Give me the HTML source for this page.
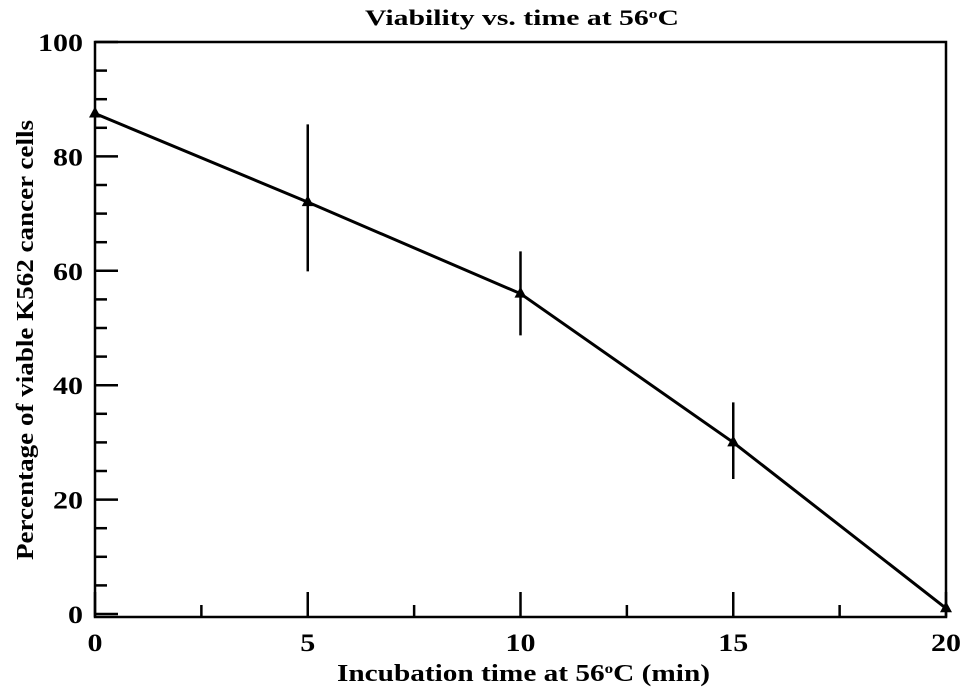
<!DOCTYPE html>
<html><head><meta charset="utf-8"><style>
html,body{margin:0;padding:0;background:#fff;}
svg{display:block;font-family:"Liberation Serif",serif;font-weight:bold;}
</style></head><body>
<svg id="chart" width="969" height="698" viewBox="0 0 969 698">
<text x="365" y="25" font-size="22" textLength="314" lengthAdjust="spacingAndGlyphs">Viability vs. time at 56<tspan font-size="13" dy="-7">o</tspan><tspan dy="7">C</tspan></text>
<text x="337" y="681" font-size="24" textLength="373" lengthAdjust="spacingAndGlyphs">Incubation time at 56<tspan font-size="14" dy="-8">o</tspan><tspan dy="8">C (min)</tspan></text>
<text transform="translate(33,560) rotate(-90)" font-size="24" textLength="440" lengthAdjust="spacingAndGlyphs">Percentage of viable K562 cancer cells</text>
<g id="axes"></g>
<g id="marks"></g>
</svg>
<script>
const times = [0, 5, 10, 15, 20];
const viability = [87.5, 72, 56, 30, 1];
const errUpper = [87.5, 85.6, 63.4, 37, 1];
const errLower = [87.5, 59.9, 48.7, 23.6, 1];
const xTicks = [0, 5, 10, 15, 20];
const yTicks = [0, 20, 40, 60, 80, 100];

const X0 = 95, X1 = 946, Y0 = 614, Y1 = 42;
const xs = v => X0 + (v - 0) / 20 * (X1 - X0);
const ys = v => Y0 - v / 100 * (Y0 - Y1);
const NS = "http://www.w3.org/2000/svg";
function mk(tag, attrs, parent) {
  const e = document.createElementNS(NS, tag);
  for (const k in attrs) e.setAttribute(k, attrs[k]);
  parent.appendChild(e);
  return e;
}
const axes = document.getElementById('axes');
const marks = document.getElementById('marks');

const frame = mk('path', {d: `M${X0},${Y1} H${X1} V${Y0+3} H${X0} Z`, fill: 'none', stroke: '#000', 'stroke-width': 2.5}, axes);



for (let v = 0; v <= 100; v += 5) {
  const major = v % 20 === 0;
  const t = mk('line', {x1: X0, x2: X0 + (major ? 23 : 12), y1: ys(v), y2: ys(v), stroke: '#000', 'stroke-width': 2.5}, axes);
  
  
}
yTicks.forEach(v => {
  const s = String(v);
  const t = mk('text', {x: X0 - 12 - s.length * 15, y: ys(v) + 9, 'font-size': 25, textLength: s.length * 15, lengthAdjust: 'spacingAndGlyphs'}, axes);
  t.textContent = s;
  
  
});
for (let v = 0; v <= 20; v += 2.5) {
  const major = v % 5 === 0;
  const t = mk('line', {x1: xs(v), x2: xs(v), y1: Y0 + 3, y2: Y0 + 3 - (major ? 25 : 12), stroke: '#000', 'stroke-width': 2.5}, axes);
  
  
}
xTicks.forEach(v => {
  const s = String(v);
  const t = mk('text', {x: xs(v) - s.length * 7.5, y: Y0 + 37, 'font-size': 25, textLength: s.length * 15, lengthAdjust: 'spacingAndGlyphs'}, axes);
  t.textContent = s;
  
  
});

times.forEach((t, i) => {
  if (errUpper[i] !== errLower[i]) {
    const e = mk('line', {x1: xs(t), x2: xs(t), y1: ys(errUpper[i]), y2: ys(errLower[i]), stroke: '#000', 'stroke-width': 2.5}, marks);
    
    
  }
});
const line = mk('polyline', {points: times.map((t, i) => xs(t) + ',' + ys(viability[i])).join(' '), fill: 'none', stroke: '#000', 'stroke-width': 3}, marks);


times.forEach((t, i) => {
  const x = xs(t), y = ys(viability[i]);
  const m = mk('polygon', {points: `${x},${y-7} ${x-6},${y+4} ${x+6},${y+4}`, fill: '#000'}, marks);
  
  
});
</script>
</body></html>
